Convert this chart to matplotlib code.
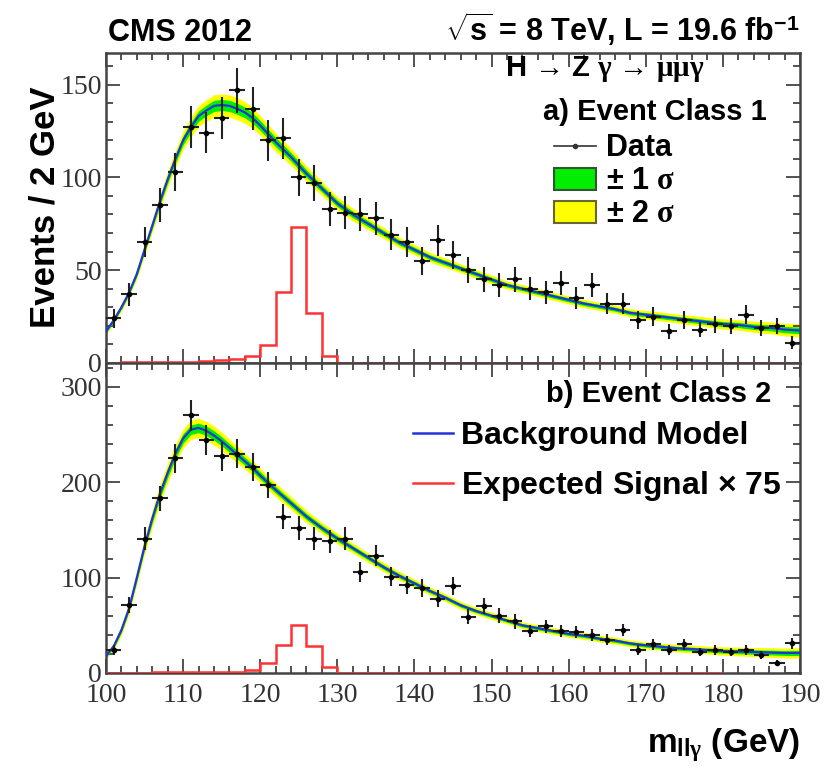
import numpy as np
import matplotlib
matplotlib.use('Agg')
import matplotlib.pyplot as plt
from matplotlib.lines import Line2D
from matplotlib.patches import Patch
from matplotlib.ticker import MultipleLocator

plt.rcParams['font.family'] = ['Liberation Sans', 'DejaVu Sans']
plt.rcParams['font.weight'] = 'bold'
plt.rcParams['mathtext.fontset'] = 'custom'
plt.rcParams['mathtext.rm'] = 'Liberation Sans:bold'
plt.rcParams['mathtext.bf'] = 'Liberation Sans:bold'
plt.rcParams['mathtext.sf'] = 'Liberation Sans:bold'
plt.rcParams['mathtext.it'] = 'Liberation Serif'

# data: 2 GeV bins, 100-190
bin_edges = np.arange(100, 192, 2)
bin_centers = bin_edges[:-1] + 1
data_c1 = [24, 37, 65, 85, 103, 127, 124, 132, 147, 137,
           120, 121, 100, 97, 83, 81, 80, 78, 69, 65,
           55, 66, 58, 50, 45, 42, 45, 40, 38, 43,
           35, 42, 32, 32, 23, 25, 17, 23, 18, 21,
           20, 26, 19, 20, 11]
data_c2 = [24, 71, 141, 183, 225, 270, 244, 227, 230, 216,
           197, 164, 152, 141, 138, 141, 106, 123, 101, 92,
           89, 78, 91, 59, 70, 60, 54, 44, 49, 44,
           43, 40, 35, 45, 24, 30, 24, 30, 22, 24,
           22, 24, 19, 10, 31]

# background model curves
bkg_x = list(range(100, 121)) + list(range(122, 192, 2))
bkg_c1 = [17, 23, 30, 38, 48, 61, 74, 87, 99, 110, 120, 127, 133, 136, 138.5, 139, 138.5, 137, 135, 132, 128,
          119, 111, 102, 94, 86, 80, 75, 70, 65, 61, 57, 54, 51, 48, 45, 42, 40, 38, 36, 34,
          32, 30.5, 29, 27, 26, 25, 24, 23, 22, 21, 20.5, 19.5, 19, 18, 17.5]
err_c1 = [0.8, 0.9, 1.0, 1.1, 1.3, 1.5, 1.7, 1.9, 2.1, 2.3, 2.5, 2.7, 2.8, 2.9, 3.0, 3.0, 3.0, 3.0, 2.9, 2.8, 2.7,
          2.5, 2.3, 2.1, 1.9, 1.8, 1.7, 1.6, 1.5, 1.4, 1.4, 1.3, 1.3, 1.2, 1.2, 1.2, 1.1, 1.1, 1.1, 1.1, 1.1,
          1.1, 1.1, 1.1, 1.1, 1.2, 1.2, 1.2, 1.3, 1.3, 1.4, 1.4, 1.5, 1.6, 1.7, 1.8]
bkg_c2 = [18, 28, 45, 68, 100, 133, 162, 188, 210, 230, 246, 255, 257, 254, 249, 243, 236, 229, 222, 215, 207,
          192, 178, 164, 152, 141, 131, 121, 111, 102, 94, 86, 79, 71, 65, 60, 55, 50, 47, 44, 41,
          39, 36, 34, 31, 29, 27.5, 26, 25, 24, 23, 22.5, 22, 21.5, 21, 21]
err_c2 = [1.5, 2, 2.5, 3, 3.5, 4, 4.5, 5, 5, 5, 5, 5, 5, 5, 5, 4.8, 4.6, 4.4, 4.2, 4.0, 3.8,
          3.6, 3.4, 3.2, 3.0, 2.8, 2.6, 2.5, 2.4, 2.3, 2.2, 2.1, 2.0, 2.0, 1.9, 1.9, 1.8, 1.8, 1.8, 1.8, 1.8,
          1.8, 1.8, 1.8, 1.8, 1.9, 1.9, 2.0, 2.0, 2.1, 2.2, 2.3, 2.4, 2.5, 2.6, 2.8]

# expected signal x 75
sig_edges_c1 = np.arange(100, 192, 2)
sig_c1 = [0.2, 0.3, 0.4, 0.5, 0.6, 0.8, 1.0, 1.5, 2.0, 4, 9.5, 38, 73, 27, 4] + [0] * 30
sig_edges_c2 = np.arange(100, 182, 2)
sig_c2 = [0.3, 0.4, 0.5, 0.6, 0.7, 0.8, 1.0, 1.2, 1.5, 3, 10, 29, 50, 28, 6] + [0] * 25

W, H = 829, 767
fig = plt.figure(figsize=(W / 100, H / 100), dpi=100)
L, R = 106 / W, 800 / W
ax1 = fig.add_axes([L, 1 - 363 / H, R - L, 310 / H])
ax2 = fig.add_axes([L, 1 - 673 / H, R - L, 310 / H])

FRAME = '#444444'
RED = '#ff3333'
BLUE = '#2233dd'


def draw_panel(ax, counts, bkg, err, sig_edges, sig, ymax, ymajor, yminor):
    bx = np.array(bkg_x)
    b = np.array(bkg)
    e = np.array(err)
    ax.fill_between(bx, b - 2 * e, b + 2 * e, color='#ffff00', lw=0, zorder=1)
    ax.fill_between(bx, b - e, b + e, color='#00ee00', lw=0, zorder=2)
    ax.plot(bx, b, color=BLUE, lw=1.6, zorder=3)
    ax.stairs(sig, sig_edges, color=RED, lw=1.8, zorder=4)
    c = np.array(counts, dtype=float)
    ax.errorbar(bin_centers, c, xerr=1, yerr=np.sqrt(c), fmt='o', ms=3, color='black',
                ecolor='#222222', elinewidth=1.5, capsize=0, zorder=5)
    ax.set_xlim(100, 190)
    ax.set_ylim(0, ymax)
    ax.xaxis.set_major_locator(MultipleLocator(10))
    ax.xaxis.set_minor_locator(MultipleLocator(2))
    ax.yaxis.set_major_locator(MultipleLocator(ymajor))
    ax.yaxis.set_minor_locator(MultipleLocator(yminor))
    ax.tick_params(which='both', direction='in', top=True, right=True, colors=FRAME,
                   labelcolor='#333333', labelfontfamily='Liberation Serif', labelsize=20)
    ax.tick_params(axis='y', pad=3)
    ax.tick_params(axis='x', pad=7)
    ax.tick_params(which='major', length=10, width=1.3)
    ax.tick_params(which='minor', length=5, width=1.3)
    for lab in ax.get_xticklabels() + ax.get_yticklabels():
        lab.set_fontweight('normal')
    for s in ax.spines.values():
        s.set_color(FRAME)
        s.set_linewidth(1.8)


draw_panel(ax1, data_c1, bkg_c1, err_c1, sig_edges_c1, sig_c1, 167, 50, 10)
draw_panel(ax2, data_c2, bkg_c2, err_c2, sig_edges_c2, sig_c2, 325, 100, 20)
ax1.tick_params(labelbottom=False)

# top panel annotations and legend
ax1.text(0.575, 0.925, r'H → Z $\gamma$ → $\mu\mu\gamma$', transform=ax1.transAxes,
         ha='left', va='baseline', fontsize=21)
ax1.text(0.952, 0.785, 'a) Event Class 1', transform=ax1.transAxes, ha='right', va='baseline', fontsize=21)
h_data = Line2D([], [], color='#333333', marker='o', ms=3, lw=1.2)
h_1s = Patch(facecolor='#00ee00', edgecolor='#335533', lw=1.5)
h_2s = Patch(facecolor='#ffff00', edgecolor='#666633', lw=1.5)
ax1.legend([h_data, h_1s, h_2s], ['Data', r'$\pm$ 1 $\sigma$', r'$\pm$ 2 $\sigma$'],
           loc='upper left', bbox_to_anchor=(0.624, 0.79), frameon=False, fontsize=22,
           handlelength=1.37, handleheight=0.72, handletextpad=0.33, labelspacing=0.1, borderpad=0)

ax2.text(0.958, 0.875, 'b) Event Class 2', transform=ax2.transAxes, ha='right', va='baseline', fontsize=21)
h_bkg = Line2D([], [], color=BLUE, lw=1.8)
h_sig = Line2D([], [], color=RED, lw=1.8)
ax2.legend([h_bkg, h_sig], ['Background Model', r'Expected Signal $\times$ 75'],
           loc='upper left', bbox_to_anchor=(0.42, 0.864), frameon=False, fontsize=23,
           handlelength=1.25, handletextpad=0.25, labelspacing=0.55, borderpad=0)

fig.text(108 / W, 1 - 41 / H, 'CMS 2012', ha='left', va='baseline', fontsize=22)
fig.text(800 / W, 1 - 41 / H, r'$\sqrt{\mathrm{s}}$ = 8 TeV, L = 19.6 fb$^{\mathrm{-1}}$',
         ha='right', va='baseline', fontsize=22)
fig.text(45 / W, 1 - 207 / H, 'Events / 2 GeV', rotation=90, ha='center', va='center', fontsize=25)
fig.text(800 / W, 1 - 752 / H, r'm$_{\mathrm{ll}\gamma}$ (GeV)', ha='right', va='baseline', fontsize=24)

fig.savefig('out.png', dpi=100)
